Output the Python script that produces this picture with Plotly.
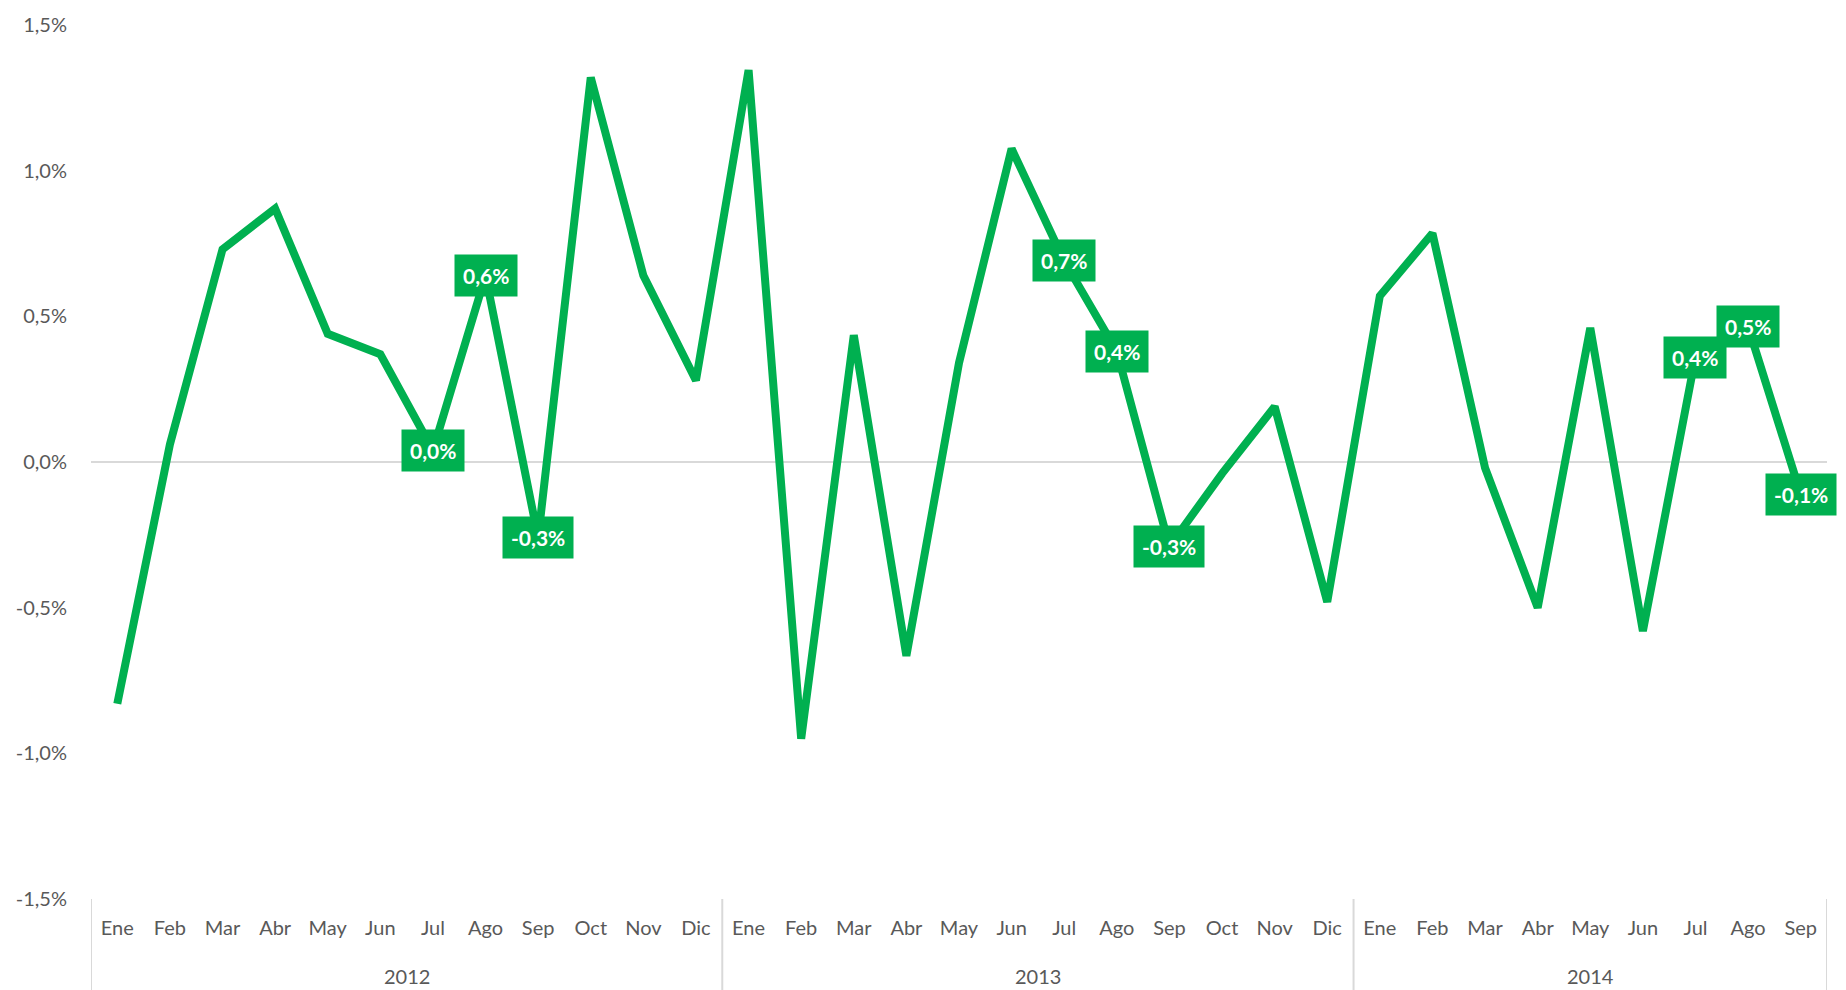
import plotly.graph_objects as go

years = ["2012"] * 12 + ["2013"] * 12 + ["2014"] * 9
months = (["Ene", "Feb", "Mar", "Abr", "May", "Jun", "Jul", "Ago", "Sep", "Oct", "Nov", "Dic"] * 2
          + ["Ene", "Feb", "Mar", "Abr", "May", "Jun", "Jul", "Ago", "Sep"])
values = [-0.83, 0.06, 0.73, 0.87, 0.44, 0.37, 0.04, 0.64, -0.26, 1.32, 0.64, 0.28,
          1.345, -0.95, 0.435, -0.665, 0.34, 1.075, 0.69, 0.38, -0.29, -0.04, 0.19, -0.48,
          0.57, 0.785, -0.02, -0.50, 0.46, -0.58, 0.36, 0.465, -0.11]
labeled_idx = [6, 7, 8, 18, 19, 20, 30, 31, 32]

y_ticks = [-1.5, -1.0, -0.5, 0.0, 0.5, 1.0, 1.5]
y_ticktext = [("%.1f%%" % v).replace(".", ",") for v in y_ticks]

GREEN = "#00B050"
GRAY = "#595959"
DIV = "#D9D9D9"
FONT = "Lato, 'Open Sans', sans-serif"

x_idx = list(range(len(months)))

fig = go.Figure()
fig.add_trace(go.Scatter(
    x=x_idx, y=values, mode="lines",
    line=dict(color=GREEN, width=8),
    hoverinfo="skip", showlegend=False,
))

for i in labeled_idx:
    fig.add_annotation(
        x=i, y=values[i], xref="x", yref="y",
        text="<b>%s%%</b>" % ("%.1f" % values[i]).replace(".", ","),
        showarrow=False, bgcolor=GREEN, borderpad=8,
        font=dict(color="white", size=21, family=FONT),
        xanchor="center", yanchor="middle",
    )

# year groups: labels and dividers derived from the years list
groups = []
for i, yv in enumerate(years):
    if not groups or groups[-1][0] != yv:
        groups.append([yv, i, i])
    else:
        groups[-1][2] = i

for name, s, e in groups:
    fig.add_annotation(
        x=(s + e) / 2, y=-0.088, xref="x", yref="paper",
        text=name, showarrow=False, yanchor="middle",
        font=dict(size=20, color=GRAY, family=FONT),
    )
bounds = [groups[0][1] - 0.5] + [e + 0.5 for _, _, e in groups]
for b in bounds:
    fig.add_shape(
        type="line", x0=b, x1=b, xref="x", y0=0, y1=-0.11, yref="paper",
        line=dict(color=DIV, width=2),
    )

fig.update_layout(
    width=1846, height=990,
    margin=dict(l=91, r=19, t=21, b=91),
    paper_bgcolor="white", plot_bgcolor="white",
    font=dict(family=FONT, size=20, color=GRAY),
    showlegend=False,
)
fig.update_yaxes(
    range=[-1.5, 1.5], tickvals=y_ticks, ticktext=y_ticktext,
    showgrid=False, zeroline=True, zerolinecolor=DIV, zerolinewidth=2,
    showline=False, ticks="", tickfont=dict(size=20, color=GRAY), ticklabelstandoff=23,
)
fig.update_xaxes(
    range=[-0.5, len(months) - 0.5], tickvals=x_idx, ticktext=months,
    showgrid=False, zeroline=False, showline=False, ticks="",
    tickfont=dict(size=20, color=GRAY), ticklabelstandoff=15,
)

fig.write_html("out.html", config={"displayModeBar": False},
               post_script="document.body.style.margin='0';")
